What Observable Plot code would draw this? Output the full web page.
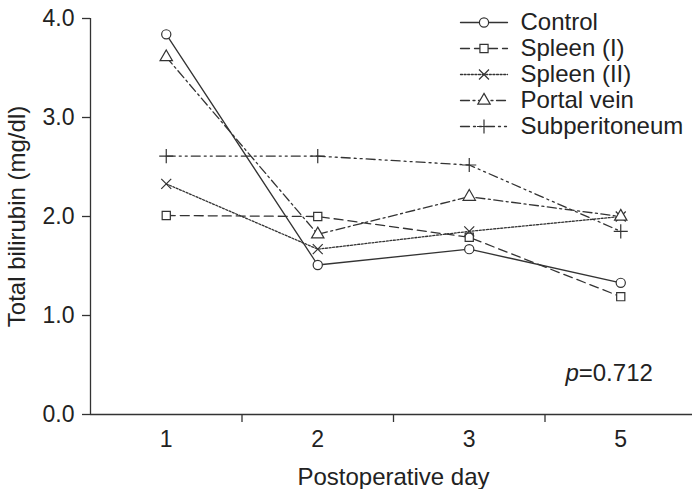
<!DOCTYPE html>
<html>
<head>
<meta charset="utf-8">
<script src="https://cdn.jsdelivr.net/npm/d3@7"></script>
<script src="https://cdn.jsdelivr.net/npm/@observablehq/plot@0.6"></script>
<style>
  body { margin: 0; background: #fff; }
  #chart { position: relative; width: 692px; height: 489px; }
  #legend { position: absolute; left: 455px; top: 8px; }
</style>
</head>
<body>
<div id="chart"><div id="legend"></div></div>
<script>
// Postoperative day categories (day 4 was not measured)
const days = ["1", "2", "3", "5"];

// Total bilirubin (mg/dl) per group, one value per postoperative day
const seriesNames = ["Control", "Spleen (I)", "Spleen (II)", "Portal vein", "Subperitoneum"];
const control       = [3.84, 1.51, 1.67, 1.33];
const spleen1       = [2.01, 2.00, 1.79, 1.19];
const spleen2       = [2.33, 1.67, 1.85, 2.00];
const portalVein    = [3.61, 1.82, 2.20, 2.00];
const subperitoneum = [2.61, 2.61, 2.52, 1.85];

const yTicks = [0, 1, 2, 3, 4];
const pValue = "0.712";

// Line dash and marker symbol for each group
const styles = {
  "Control":       {dash: null,            symbol: "circle",   fill: "white"},
  "Spleen (I)":    {dash: "9,5",           symbol: "square",   fill: "white"},
  "Spleen (II)":   {dash: "2,1.6",         symbol: "times",    fill: "none"},
  "Portal vein":   {dash: "9,3.5,2,3.5",   symbol: "triangle", fill: "white"},
  "Subperitoneum": {dash: "9,4,2,4,2,4",   symbol: "plus",     fill: "none"}
};

const values = [control, spleen1, spleen2, portalVein, subperitoneum];
const rows = seriesNames.flatMap((name, s) =>
  days.map((d, i) => ({series: name, i: i + 0.5, day: d, value: values[s][i]}))
);

const ink = "#333";
const textInk = "#222";
const font = "'Liberation Sans', Arial, Helvetica, sans-serif";

const seriesMarks = seriesNames.flatMap(name => {
  const st = styles[name];
  const data = rows.filter(r => r.series === name);
  return [
    Plot.line(data, {x: "i", y: "value", stroke: ink, strokeWidth: 1.3,
      strokeDasharray: st.dash ?? undefined}),
    Plot.dot(data, {x: "i", y: "value", symbol: () => st.symbol, r: 4.6,
      stroke: ink, strokeWidth: 1.2, fill: st.fill})
  ];
});

const chart = Plot.plot({
  width: 692,
  height: 489,
  marginLeft: 90,
  marginRight: 0,
  marginTop: 18,
  marginBottom: 75,
  style: {fontFamily: font, fontSize: "23px", color: textInk, background: "white"},
  x: {domain: [0, 4], range: [90, 696]},
  y: {domain: [0, 4]},
  symbol: {type: "identity"},
  marks: [
    // axis lines
    Plot.ruleY([0], {stroke: ink, strokeWidth: 1.3}),
    Plot.ruleX([0], {stroke: ink, strokeWidth: 1.3}),
    // x ticks sit between the day categories, labels at the centres
    Plot.axisX({ticks: [1, 2, 3], tickSize: 8, tickFormat: () => "", stroke: ink,
      strokeWidth: 1.3, label: null}),
    Plot.axisX({ticks: days.map((d, i) => i + 0.5), tickSize: 0, tickPadding: 16,
      tickFormat: (t) => days[Math.floor(t)], label: null}),
    Plot.axisY({ticks: yTicks, tickSize: 8, tickPadding: 8, tickFormat: d3.format(".1f"),
      stroke: ink, strokeWidth: 1.3, label: null}),
    Plot.text(["Total bilirubin (mg/dl)"], {frameAnchor: "left", rotate: -90, dx: -73,
      textAnchor: "middle", lineAnchor: "middle", fontSize: 24, fill: textInk}),
    Plot.text(["Postoperative day"], {x: 2, frameAnchor: "bottom", dy: 63,
      lineAnchor: "middle", fontSize: 24, fill: textInk}),
    ...seriesMarks,
    // p-value annotation: italic p followed by the value
    Plot.text(["p"], {x: () => days.length - 0.5, y: () => 0.42, dx: -42,
      textAnchor: "end", fontStyle: "italic", fontSize: 24, fill: textInk}),
    Plot.text(["=" + pValue], {x: () => days.length - 0.5, y: () => 0.42, dx: -42,
      textAnchor: "start", fontSize: 24, fill: textInk})
  ]
});
document.getElementById("chart").prepend(chart);

// Legend: short line sample with the group's marker, then its name
const legendMarks = seriesNames.flatMap(name => {
  const st = styles[name];
  return [
    Plot.line([{x: 0, y: name}, {x: 1, y: name}], {x: "x", y: "y", stroke: ink, strokeWidth: 1.3,
      strokeDasharray: st.dash ?? undefined}),
    Plot.dot([{x: 0.5, y: name}], {x: "x", y: "y", symbol: () => st.symbol, r: 4.6,
      stroke: ink, strokeWidth: 1.2, fill: st.fill}),
    Plot.text([{x: 1, y: name}], {x: "x", y: "y", text: "y", dx: 13, textAnchor: "start",
      lineAnchor: "middle", fontSize: 24, fill: textInk})
  ];
});

const legend = Plot.plot({
  width: 237,
  height: 136,
  margin: 0,
  style: {fontFamily: font, fontSize: "24px", background: "transparent", overflow: "visible"},
  x: {domain: [0, 1], range: [5, 52], axis: null},
  y: {type: "point", domain: seriesNames, range: [13.7, 118.7], padding: 0, axis: null},
  symbol: {type: "identity"},
  marks: legendMarks
});
document.getElementById("legend").append(legend);
</script>
</body>
</html>
